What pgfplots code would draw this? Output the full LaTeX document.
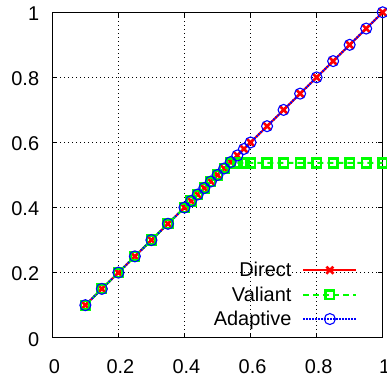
\documentclass[border=0pt]{standalone}
\usepackage{pgfplots}
\pgfplotsset{compat=1.18}
\usepackage{fontspec}
\setmainfont{Liberation Sans}
\definecolor{dred}{RGB}{255,0,0}
\definecolor{dgreen}{RGB}{0,255,0}
\definecolor{dblue}{RGB}{0,0,255}
\pgfplotstableread{
x y
0.10 0.10
0.15 0.15
0.20 0.20
0.25 0.25
0.30 0.30
0.35 0.35
0.40 0.40
0.42 0.42
0.44 0.44
0.46 0.46
0.48 0.48
0.50 0.50
0.52 0.52
0.54 0.54
0.56 0.56
0.58 0.58
0.60 0.60
0.65 0.65
0.70 0.70
0.75 0.75
0.80 0.80
0.85 0.85
0.90 0.90
0.95 0.95
1.00 1.00
}\direct
\pgfplotstableread{
x y
0.10 0.10
0.15 0.15
0.20 0.20
0.25 0.25
0.30 0.30
0.35 0.35
0.40 0.40
0.42 0.42
0.44 0.44
0.46 0.46
0.48 0.48
0.50 0.50
0.52 0.52
0.54 0.537
0.56 0.537
0.58 0.537
0.60 0.537
0.65 0.537
0.70 0.537
0.75 0.537
0.80 0.537
0.85 0.537
0.90 0.537
0.95 0.537
1.00 0.537
}\valiant
\pgfplotstableread{
x y
0.10 0.10
0.15 0.15
0.20 0.20
0.25 0.25
0.30 0.30
0.35 0.35
0.40 0.40
0.42 0.42
0.44 0.44
0.46 0.46
0.48 0.48
0.50 0.50
0.52 0.52
0.54 0.54
0.56 0.56
0.58 0.58
0.60 0.60
0.65 0.65
0.70 0.70
0.75 0.75
0.80 0.80
0.85 0.85
0.90 0.90
0.95 0.95
1.00 1.00
}\adaptive
\begin{document}
\begin{tikzpicture}
\useasboundingbox (-52.3bp,-36.3bp) rectangle (334.7bp,337.7bp);
\begin{axis}[
  at={(0,0)}, anchor=south west,
  scale only axis, width=330.4bp, height=325.4bp,
  xmin=0, xmax=1, ymin=0, ymax=1,
  enlargelimits=false,
  xtick={0,0.2,0.4,0.6,0.8,1}, ytick={0,0.2,0.4,0.6,0.8,1},
  /pgf/number format/assume math mode=true,
  font=\fontsize{20}{24}\selectfont,
  ticklabel style={font=\fontsize{20}{24}\selectfont, inner sep=0pt},
  yticklabel style={anchor=east, xshift=-13bp, yshift=-1.5bp},
  xticklabel style={anchor=north, yshift=-22bp, xshift=2bp},
  tick align=inside, major tick length=5bp,
  tick style={black, line width=0.8bp},
  axis line style={black, line width=1.2bp},
  grid=major,
  major grid style={black, line width=0.7bp, dash pattern=on 1bp off 3bp},
  legend plot pos=right,
  legend cell align=right,
  legend style={draw=none, fill=none, at={(axis cs:0.933,0.02)}, anchor=south east,
    row sep=4.5bp, column sep=9bp, font=\fontsize{20}{24}\selectfont},
  legend image code/.code={\draw[mark repeat=2,mark phase=2,#1] plot coordinates {(0bp,0bp)(26.5bp,0bp)(53bp,0bp)};},
]
\addplot[dred, line width=2bp, mark=x, mark size=5bp, mark options={solid, line width=2.6bp}] table {\direct};
\addlegendentry{Direct}
\addplot[dgreen, line width=2bp, dash pattern=on 6bp off 4bp, mark=square, mark size=4.3bp, mark options={solid, line width=2.6bp}] table {\valiant};
\addlegendentry{Valiant}
\addplot[dblue, line width=2bp, dash pattern=on 1.5bp off 1.5bp, mark=o, mark size=5.5bp, mark options={solid, line width=1.1bp}] table {\adaptive};
\addlegendentry{Adaptive}
\end{axis}
\end{tikzpicture}
\end{document}
